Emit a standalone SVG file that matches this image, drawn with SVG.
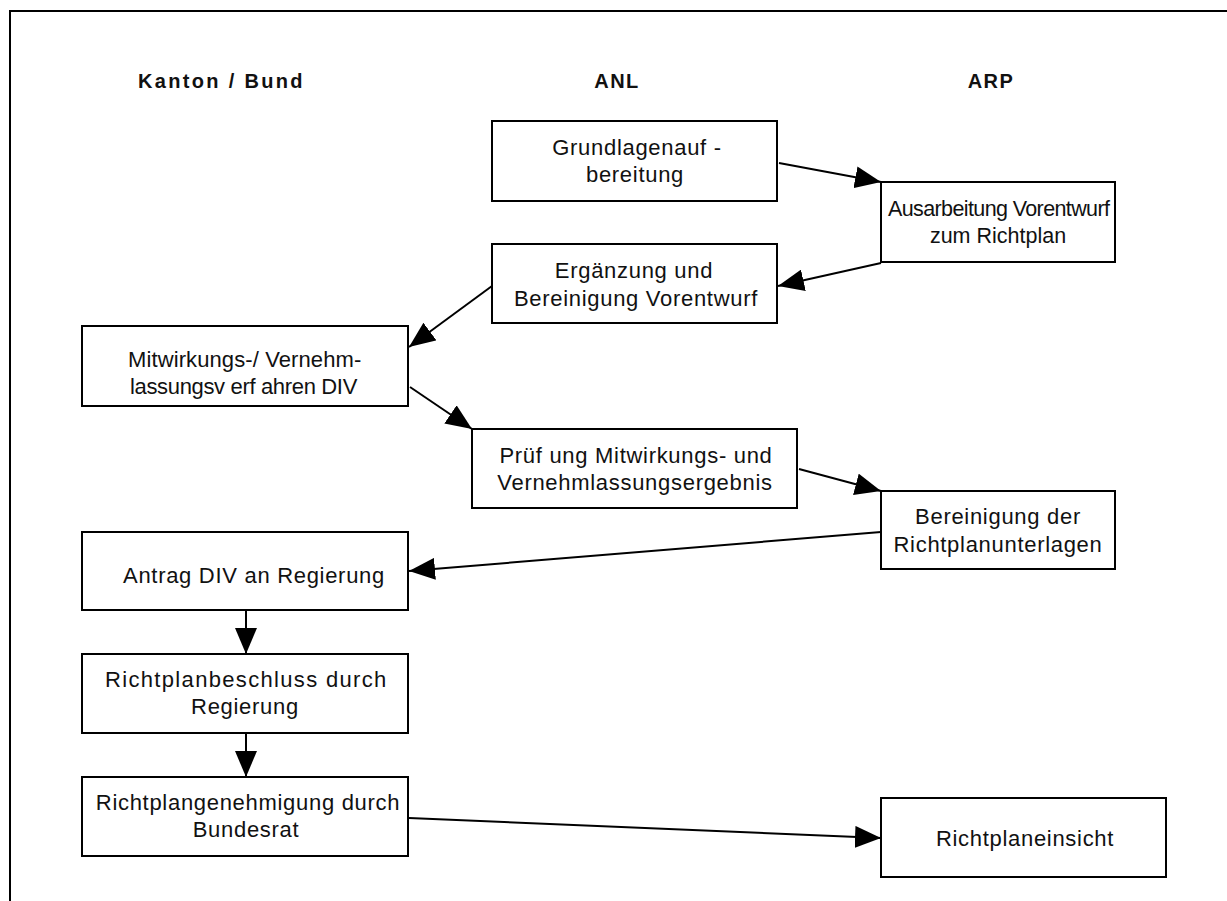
<svg xmlns="http://www.w3.org/2000/svg" width="1227" height="901" viewBox="0 0 1227 901">
<style>
.box{fill:#fff;stroke:#000;stroke-width:2}
.t{font-family:"Liberation Sans",Arial,sans-serif;font-size:22px;fill:#111;text-anchor:middle;letter-spacing:0.7px}
.s{font-size:21.5px;letter-spacing:0px}
.h{font-family:"Liberation Sans",Arial,sans-serif;font-size:20px;font-weight:bold;fill:#111;text-anchor:middle;letter-spacing:1.5px}
.c{stroke:#000;stroke-width:2;fill:none;marker-end:url(#ah)}
</style>
<defs>
<marker id="ah" viewBox="0 0 26 22" refX="26" refY="11" markerWidth="26" markerHeight="22" markerUnits="userSpaceOnUse" orient="auto">
<path d="M0,0 L26,11 L0,22 z" fill="#000"/>
</marker>
</defs>
<rect width="1227" height="901" fill="#fff"/>
<path d="M10,901 V11 H1227" fill="none" stroke="#000" stroke-width="2"/>
<g id="headers">
<text class="h" x="221" y="88" textLength="166" lengthAdjust="spacing">Kanton / Bund</text>
<text class="h" x="617" y="88">ANL</text>
<text class="h" x="991" y="88">ARP</text>
</g>
<g id="connectors">
<line class="c" x1="779" y1="163" x2="881" y2="182"/>
<line class="c" x1="881" y1="263" x2="778" y2="286"/>
<line class="c" x1="492" y1="286" x2="409" y2="347"/>
<line class="c" x1="410" y1="387" x2="472" y2="429"/>
<line class="c" x1="799" y1="469" x2="881" y2="491"/>
<line class="c" x1="881" y1="532" x2="409" y2="571"/>
<line class="c" x1="246" y1="610" x2="246" y2="654"/>
<line class="c" x1="246" y1="733" x2="246" y2="777"/>
<line class="c" x1="409" y1="818" x2="881" y2="838"/>
</g>
<g id="n1"><rect class="box" x="492" y="121" width="285" height="80"/>
<text class="t" x="637" y="155">Grundlagenauf -</text><text class="t" x="635" y="182">bereitung</text></g>
<g id="n2"><rect class="box" x="881" y="182" width="234" height="80"/>
<text class="t s" x="999" y="216" textLength="222" lengthAdjust="spacing">Ausarbeitung Vorentwurf</text><text class="t s" x="998" y="243">zum Richtplan</text></g>
<g id="n3"><rect class="box" x="492" y="244" width="285" height="79"/>
<text class="t" x="634" y="278">Ergänzung und</text><text class="t" x="636" y="306">Bereinigung Vorentwurf</text></g>
<g id="n4"><rect class="box" x="82" y="326" width="326" height="80"/>
<text class="t" x="245" y="367" textLength="234" lengthAdjust="spacing">Mitwirkungs-/ Vernehm-</text><text class="t" x="244" y="394" textLength="228" lengthAdjust="spacing">lassungsv erf ahren DIV</text></g>
<g id="n5"><rect class="box" x="472" y="429" width="325" height="79"/>
<text class="t" x="636" y="463">Prüf ung Mitwirkungs- und</text><text class="t" x="635" y="490">Vernehmlassungsergebnis</text></g>
<g id="n6"><rect class="box" x="881" y="491" width="234" height="78"/>
<text class="t" x="998" y="524">Bereinigung der</text><text class="t" x="998" y="552">Richtplanunterlagen</text></g>
<g id="n7"><rect class="box" x="82" y="532" width="326" height="78"/>
<text class="t" x="254" y="583">Antrag DIV an Regierung</text></g>
<g id="n8"><rect class="box" x="82" y="654" width="326" height="79"/>
<text class="t" x="246" y="687" textLength="282" lengthAdjust="spacing">Richtplanbeschluss durch</text><text class="t" x="245" y="714">Regierung</text></g>
<g id="n9"><rect class="box" x="82" y="777" width="326" height="79"/>
<text class="t" x="248" y="810">Richtplangenehmigung durch</text><text class="t" x="246" y="837">Bundesrat</text></g>
<g id="n10"><rect class="box" x="881" y="798" width="285" height="79"/>
<text class="t" x="1025" y="846">Richtplaneinsicht</text></g>
</svg>
